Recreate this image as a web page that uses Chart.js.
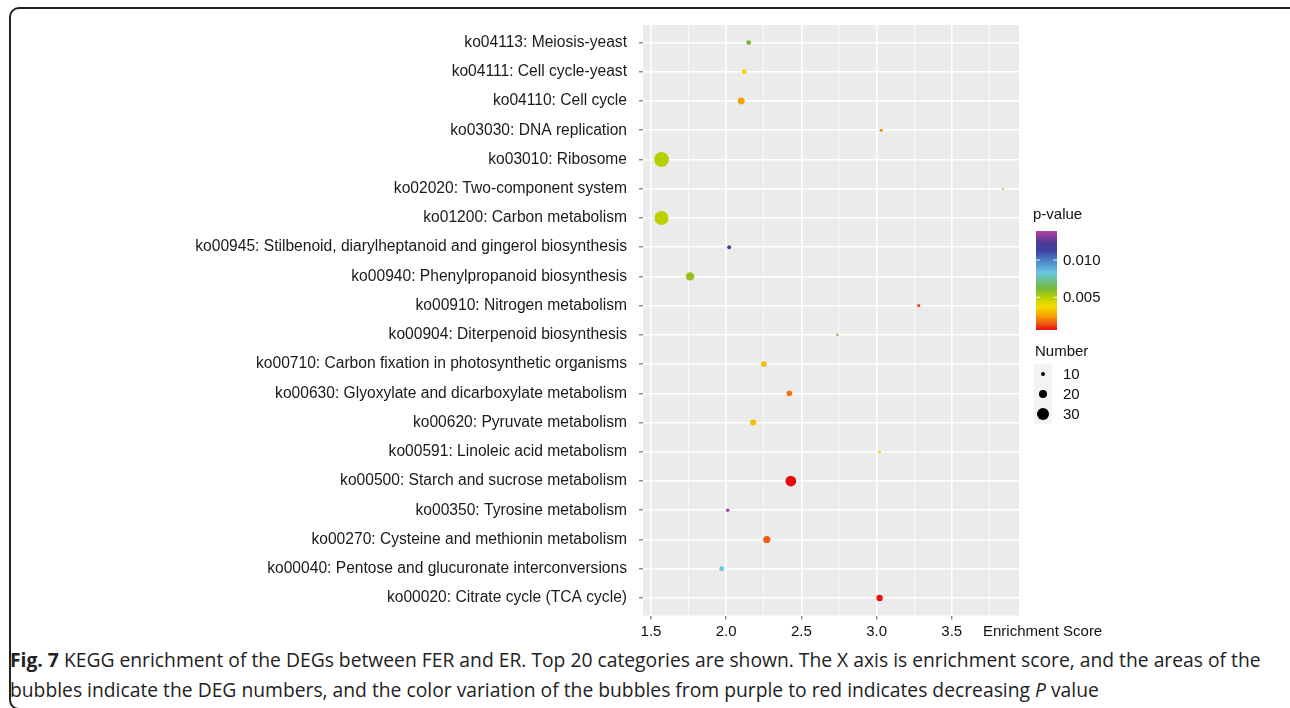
<!DOCTYPE html>
<html>
<head>
<meta charset="utf-8">
<script src="https://cdn.jsdelivr.net/npm/chart.js@4.4.1/dist/chart.umd.min.js"></script>
<style>
  html, body { margin: 0; padding: 0; background: #fff; }
  body { width: 1290px; height: 708px; position: relative; overflow: hidden; }
  #frame {
    position: absolute; left: 9px; top: 7px; width: 1300px; height: 703px;
    border: 2px solid #222; border-radius: 10px; box-sizing: border-box;
  }
  #wrap { position: absolute; left: 0; top: 0; width: 1290px; height: 645px; }
  .cap {
    position: absolute; left: 10px; white-space: nowrap;
    font-family: "Open Sans", "Noto Sans", sans-serif; font-size: 19.3px; color: #222;
  }
  .cap b { font-weight: 700; }
</style>
</head>
<body>
<div id="frame"></div>
<div id="wrap"><canvas id="c" width="1290" height="645"></canvas></div>
<div class="cap" id="cap1" style="top:646px;"><b>Fig. 7</b> KEGG enrichment of the DEGs between FER and ER. Top 20 categories are shown. The X axis is enrichment score, and the areas of the</div>
<div class="cap" id="cap2" style="top:676px;">bubbles indicate the DEG numbers, and the color variation of the bubbles from purple to red indicates decreasing <i>P</i> value</div>
<script>
// KEGG pathways, listed top to bottom
const pathways = [
  "ko04113: Meiosis-yeast",
  "ko04111: Cell cycle-yeast",
  "ko04110: Cell cycle",
  "ko03030: DNA replication",
  "ko03010: Ribosome",
  "ko02020: Two-component system",
  "ko01200: Carbon metabolism",
  "ko00945: Stilbenoid, diarylheptanoid and gingerol biosynthesis",
  "ko00940: Phenylpropanoid biosynthesis",
  "ko00910: Nitrogen metabolism",
  "ko00904: Diterpenoid biosynthesis",
  "ko00710: Carbon fixation in photosynthetic organisms",
  "ko00630: Glyoxylate and dicarboxylate metabolism",
  "ko00620: Pyruvate metabolism",
  "ko00591: Linoleic acid metabolism",
  "ko00500: Starch and sucrose metabolism",
  "ko00350: Tyrosine metabolism",
  "ko00270: Cysteine and methionin metabolism",
  "ko00040: Pentose and glucuronate interconversions",
  "ko00020: Citrate cycle (TCA cycle)"
];
// Enrichment score per pathway
const enrichment = [2.15, 2.12, 2.10, 3.03, 1.57, 3.84, 1.57, 2.02, 1.76, 3.28,
                    2.74, 2.25, 2.42, 2.18, 3.02, 2.43, 2.01, 2.27, 1.97, 3.02];
// Number of DEGs per pathway
const degCount = [12, 12, 17, 8, 37, 5, 35, 10, 21, 8,
                  6, 14, 14, 15, 7, 27, 9, 18, 12, 16];
// p-value per pathway
const pValue = [0.0062, 0.0040, 0.0025, 0.0021, 0.0050, 0.0026, 0.0049, 0.0112, 0.0056, 0.0013,
                0.0062, 0.0031, 0.0018, 0.0031, 0.0035, 0.0006, 0.0137, 0.0015, 0.0083, 0.0007];
// X axis ticks (every 0.25, labelled every 0.5)
const xTicks = [1.5, 1.75, 2.0, 2.25, 2.5, 2.75, 3.0, 3.25, 3.5, 3.75];
const xTickLabels = ["1.5", "", "2.0", "", "2.5", "", "3.0", "", "3.5", ""];
// Legend entries
const pLegendTicks = [0.010, 0.005];
const pLegendLabels = ["0.010", "0.005"];
const sizeLegend = [10, 20, 30];

// colour scale limits
const P_MIN = 0.0006, P_MAX = 0.0139;
const palette = [
  [0.00, "#e60a0a"], [0.06, "#ef5512"], [0.14, "#f6a000"], [0.24, "#f6de00"],
  [0.33, "#b7cf00"], [0.42, "#74b83a"], [0.58, "#66c6e2"], [0.70, "#4c82c6"],
  [0.80, "#3f42a0"], [0.88, "#4b3894"], [1.00, "#b543a3"]
];
function hex2rgb(h) { return [1,3,5].map(i => parseInt(h.substr(i, 2), 16)); }
function colourFor(p) {
  let t = (p - P_MIN) / (P_MAX - P_MIN);
  t = Math.max(0, Math.min(1, t));
  for (let i = 1; i < palette.length; i++) {
    if (t <= palette[i][0]) {
      const [t0, c0] = palette[i - 1], [t1, c1] = palette[i];
      const f = (t - t0) / (t1 - t0);
      const a = hex2rgb(c0), b = hex2rgb(c1);
      const m = a.map((v, k) => Math.round(v + (b[k] - v) * f));
      return `rgb(${m[0]},${m[1]},${m[2]})`;
    }
  }
  return palette[palette.length - 1][1];
}
function radiusFor(n) { return Math.max(1, 0.2 * n); }

const N = pathways.length;
const points = pathways.map((name, i) => ({ x: enrichment[i], y: N - i, r: radiusFor(degCount[i]) }));
const colours = pValue.map(colourFor);

const FONT = "'Liberation Sans', Arial, sans-serif";

const panelBg = {
  id: 'panelBg',
  beforeDraw(chart) {
    const { ctx, chartArea: a } = chart;
    ctx.save();
    ctx.fillStyle = '#ebebeb';
    ctx.fillRect(a.left, a.top, a.right - a.left, a.bottom - a.top);
    ctx.restore();
  }
};

const legends = {
  id: 'legends',
  afterDraw(chart) {
    const ctx = chart.ctx;
    ctx.save();
    ctx.fillStyle = '#111';
    ctx.textBaseline = 'middle';
    ctx.textAlign = 'left';
    // axis title beside the tick labels
    ctx.font = `15px ${FONT}`;
    ctx.fillText('Enrichment Score', 983, 632);

    // p-value colour bar
    ctx.font = `15px ${FONT}`;
    ctx.fillText('p-value', 1033, 215);
    const bx = 1036, bw = 21, bTop = 231, bBot = 330;
    const g = ctx.createLinearGradient(0, bBot, 0, bTop);
    palette.forEach(([t, c]) => g.addColorStop(t, c));
    ctx.fillStyle = g;
    ctx.fillRect(bx, bTop, bw, bBot - bTop);
    ctx.strokeStyle = 'rgba(255,255,255,0.85)';
    ctx.lineWidth = 1;
    pLegendTicks.forEach((p, i) => {
      const y = bBot - (p - P_MIN) / (P_MAX - P_MIN) * (bBot - bTop);
      ctx.beginPath();
      ctx.moveTo(bx, y); ctx.lineTo(bx + 4, y);
      ctx.moveTo(bx + bw - 4, y); ctx.lineTo(bx + bw, y);
      ctx.stroke();
      ctx.fillStyle = '#111';
      ctx.fillText(pLegendLabels[i], 1063, y + 1);
    });

    // bubble size key
    ctx.fillStyle = '#111';
    ctx.fillText('Number', 1035, 352);
    sizeLegend.forEach((n, i) => {
      const y = 374 + i * 20;
      ctx.fillStyle = '#f3f3f3';
      ctx.fillRect(1034, y - 10, 18, 20);
      ctx.fillStyle = '#000';
      ctx.beginPath();
      ctx.arc(1043, y, radiusFor(n), 0, Math.PI * 2);
      ctx.fill();
      ctx.fillStyle = '#111';
      ctx.fillText(String(n), 1063, y + 1);
    });
    ctx.restore();
  }
};

new Chart(document.getElementById('c'), {
  type: 'bubble',
  data: {
    datasets: [{
      data: points,
      backgroundColor: colours,
      borderWidth: 0,
      hoverBorderWidth: 0
    }]
  },
  options: {
    responsive: false,
    animation: false,
    events: [],
    layout: { padding: { top: 25, right: 271, left: 0, bottom: 0 } },
    plugins: { legend: { display: false }, tooltip: { enabled: false } },
    scales: {
      x: {
        type: 'linear',
        min: 1.447, max: 3.947,
        afterBuildTicks: s => { s.ticks = xTicks.map(v => ({ value: v })); },
        afterFit: s => { s.height = 29.5; },
        border: { display: false },
        grid: {
          color: '#ffffff',
          lineWidth: c => (c.index % 2 === 0 ? 1.6 : 0.7),
          drawTicks: true,
          tickLength: 4,
          tickWidth: 1,
          tickColor: c => (c.index % 2 === 0 ? '#555' : 'rgba(0,0,0,0)')
        },
        ticks: {
          autoSkip: false, maxRotation: 0, padding: 3,
          color: '#111',
          font: { family: FONT, size: 15 },
          callback: (v, i) => xTickLabels[i]
        }
      },
      y: {
        type: 'linear',
        min: 0.4, max: N + 0.6,
        afterBuildTicks: s => { s.ticks = pathways.map((_, i) => ({ value: N - i })); },
        afterFit: s => { s.width = 643; },
        border: { display: false },
        grid: {
          color: '#ffffff',
          lineWidth: 1.6,
          drawTicks: true,
          tickLength: 4,
          tickWidth: 1,
          tickColor: '#555'
        },
        ticks: {
          autoSkip: false, padding: 12,
          color: '#1a1a1a',
          font: { family: FONT, size: 15.6 },
          callback: v => pathways[N - v]
        }
      }
    }
  },
  plugins: [panelBg, legends]
});
</script>
</body>
</html>
